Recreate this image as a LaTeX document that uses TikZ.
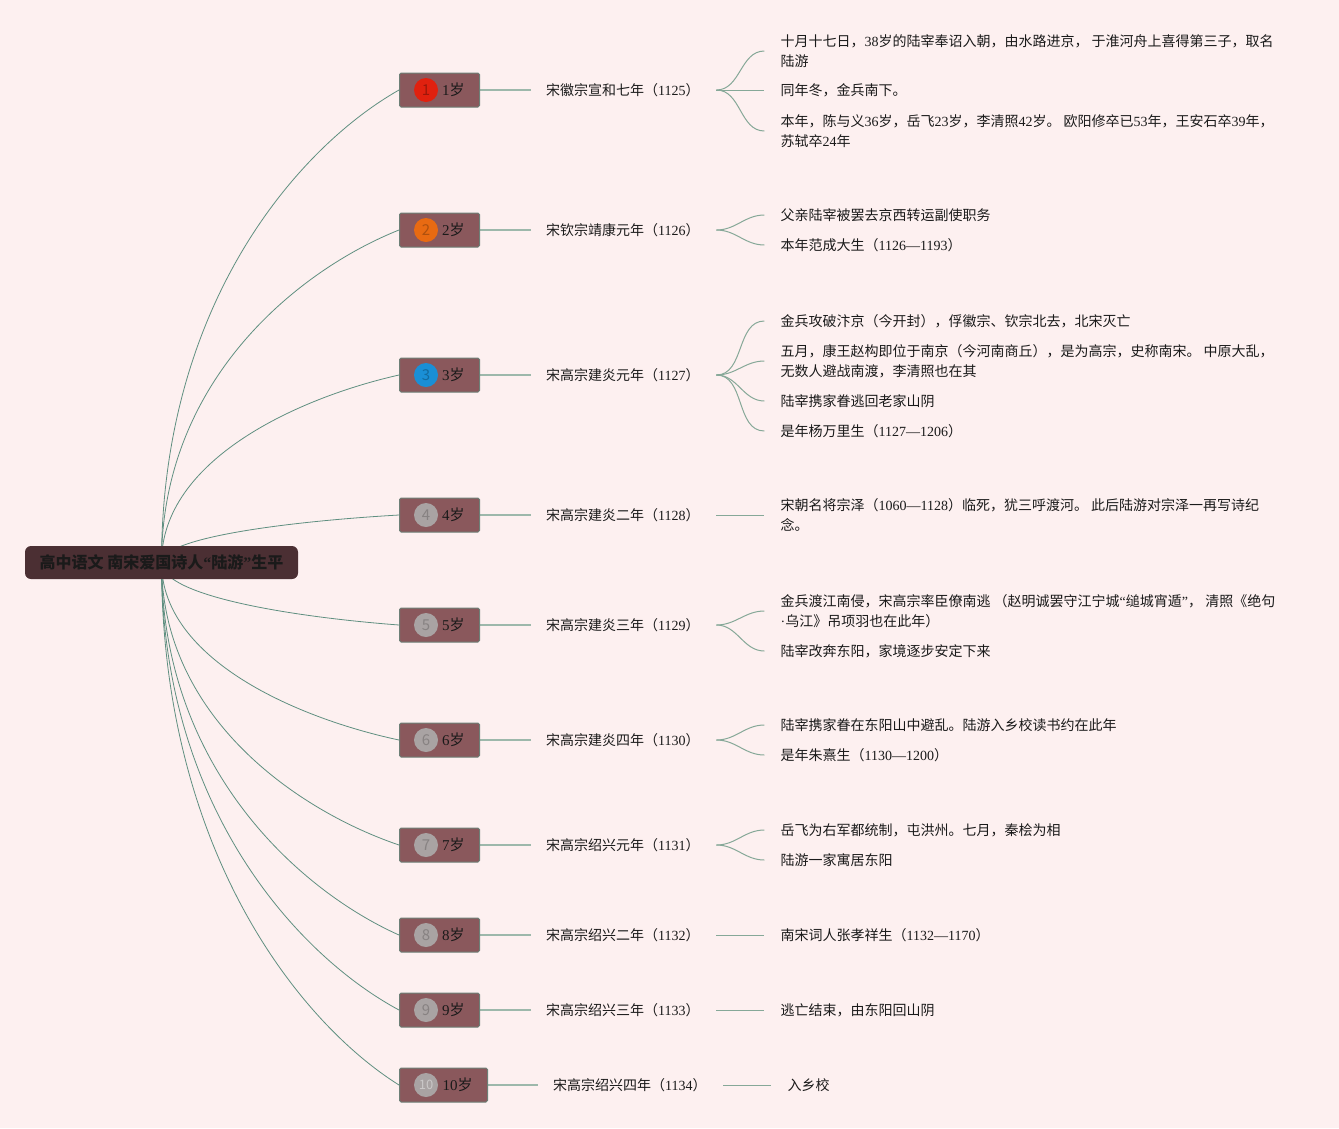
\documentclass[tikz,border=0pt]{standalone}
\usepackage{fontspec}
\setmainfont{Noto Sans CJK SC}
\newfontfamily\latfont{Liberation Serif}
\newcommand\lat[1]{{\latfont #1}}
\usepackage{xcolor}
\definecolor{pagebg}  {HTML}{FDF0F0}
\definecolor{rootfill}{HTML}{4B2F33}
\definecolor{agefill} {HTML}{8A585C}
\definecolor{agedraw} {HTML}{6D8077}
\definecolor{limbc}   {HTML}{5F8F80}
\definecolor{stemc}   {HTML}{9DB8AB}
\definecolor{twigc}   {HTML}{86A898}
\definecolor{badgeR}  {HTML}{E0210F}
\definecolor{badgeO}  {HTML}{E86A12}
\definecolor{badgeB}  {HTML}{1A8FD6}
\definecolor{badgeG}  {HTML}{A9A3A3}
\definecolor{inkc}    {HTML}{1A1A1A}
\usepackage{tikz}
\usetikzlibrary{positioning,calc,backgrounds}

\begin{document}
\begin{tikzpicture}[x=1pt, y=-1pt,
  font=\fontsize{14}{20}\selectfont, text=inkc,
  wurzel/.style={fill=rootfill, rounded corners=6pt, minimum width=273pt, minimum height=33pt, font=\fontsize{16}{20}\selectfont\bfseries},
  alter/.style={fill=agefill, draw=agedraw, line width=1pt, rounded corners=1.5pt, anchor=west, minimum height=34pt, text width=50pt, align=right, inner xsep=15pt, font=\fontsize{15}{20}\selectfont},
  plakette/.style={circle, minimum size=24pt, inner sep=0pt, font=\fontsize{15}{15}\selectfont},
  jahr/.style={text width=155pt, inner xsep=15pt, align=left},
  blatt/.style={inner xsep=16pt, align=left},
  limb/.style={limbc, line width=0.8pt, to path={.. controls ($(\tikztostart)!0.55!(\tikztostart |- \tikztotarget)$) and ($(\tikztotarget)!0.12!(\tikztostart -| \tikztotarget)+(-100pt,0)$) .. (\tikztotarget)}},
  stem/.style={stemc, line width=1.5pt},
  twig/.style={twigc, line width=1pt}]
  \useasboundingbox (0,0) rectangle (1339,1128);
  \begin{scope}[on background layer]
    \fill[pagebg] (0,0) rectangle (1339,1128);
  \end{scope}
  % Wurzel
  \node[wurzel] (root) at (161.5,562.5) {高中语文 南宋爱国诗人\lat{“}陆游\lat{”}生平};
  % Lebensjahre
  \node[alter] (a1) at (399,90) {\lat{1}岁};
  \node[alter] (a2) at (399,230) {\lat{2}岁};
  \node[alter] (a3) at (399,375) {\lat{3}岁};
  \node[alter] (a4) at (399,515) {\lat{4}岁};
  \node[alter] (a5) at (399,625) {\lat{5}岁};
  \node[alter] (a6) at (399,740) {\lat{6}岁};
  \node[alter] (a7) at (399,845) {\lat{7}岁};
  \node[alter] (a8) at (399,935) {\lat{8}岁};
  \node[alter] (a9) at (399,1010) {\lat{9}岁};
  \node[alter, text width=58pt] (a10) at (399,1085) {\lat{10}岁};
  \node[plakette, fill=badgeR, text=badgeR!70!black] (p1) at ([xshift=27pt]a1.west) {1};
  \node[plakette, fill=badgeO, text=badgeO!75!black] (p2) at ([xshift=27pt]a2.west) {2};
  \node[plakette, fill=badgeB, text=badgeB!75!black] (p3) at ([xshift=27pt]a3.west) {3};
  \node[plakette, fill=badgeG, text=badgeG!80!black] (p4) at ([xshift=27pt]a4.west) {4};
  \node[plakette, fill=badgeG, text=badgeG!80!black] (p5) at ([xshift=27pt]a5.west) {5};
  \node[plakette, fill=badgeG, text=badgeG!80!black] (p6) at ([xshift=27pt]a6.west) {6};
  \node[plakette, fill=badgeG, text=badgeG!80!black] (p7) at ([xshift=27pt]a7.west) {7};
  \node[plakette, fill=badgeG, text=badgeG!80!black] (p8) at ([xshift=27pt]a8.west) {8};
  \node[plakette, fill=badgeG, text=badgeG!80!black] (p9) at ([xshift=27pt]a9.west) {9};
  \node[plakette, fill=badgeG, text=badgeG!60!white, font=\fontsize{13}{13}\selectfont] (p10) at ([xshift=27pt]a10.west) {10};
  % Jahre
  \node[jahr, right=51pt of a1] (y1) {宋徽宗宣和七年（\lat{1125}）};
  \node[jahr, right=51pt of a2] (y2) {宋钦宗靖康元年（\lat{1126}）};
  \node[jahr, right=51pt of a3] (y3) {宋高宗建炎元年（\lat{1127}）};
  \node[jahr, right=51pt of a4] (y4) {宋高宗建炎二年（\lat{1128}）};
  \node[jahr, right=51pt of a5] (y5) {宋高宗建炎三年（\lat{1129}）};
  \node[jahr, right=51pt of a6] (y6) {宋高宗建炎四年（\lat{1130}）};
  \node[jahr, right=51pt of a7] (y7) {宋高宗绍兴元年（\lat{1131}）};
  \node[jahr, right=51pt of a8] (y8) {宋高宗绍兴二年（\lat{1132}）};
  \node[jahr, right=51pt of a9] (y9) {宋高宗绍兴三年（\lat{1133}）};
  \node[jahr, right=50pt of a10] (y10) {宋高宗绍兴四年（\lat{1134}）};
  % Ereignisse
  \node[blatt, right=48pt of y1, yshift=39pt] (e1a) {十月十七日，\lat{38}岁的陆宰奉诏入朝，由水路进京， 于淮河舟上喜得第三子，取名\\陆游};
  \node[blatt, right=48pt of y1] (e1b) {同年冬，金兵南下。};
  \node[blatt, right=48pt of y1, yshift=-41pt] (e1c) {本年，陈与义\lat{36}岁，岳飞\lat{23}岁，李清照\lat{42}岁。 欧阳修卒已\lat{53}年，王安石卒\lat{39}年，\\苏轼卒\lat{24}年};
  \node[blatt, right=48pt of y2, yshift=15pt] (e2a) {父亲陆宰被罢去京西转运副使职务};
  \node[blatt, right=48pt of y2, yshift=-15pt] (e2b) {本年范成大生（\lat{1126—1193}）};
  \node[blatt, right=48pt of y3, yshift=54pt] (e3a) {金兵攻破汴京（今开封），俘徽宗、钦宗北去，北宋灭亡};
  \node[blatt, right=48pt of y3, yshift=14pt] (e3b) {五月，康王赵构即位于南京（今河南商丘），是为高宗，史称南宋。 中原大乱，\\无数人避战南渡，李清照也在其};
  \node[blatt, right=48pt of y3, yshift=-26pt] (e3c) {陆宰携家眷逃回老家山阴};
  \node[blatt, right=48pt of y3, yshift=-56pt] (e3d) {是年杨万里生（\lat{1127—1206}）};
  \node[blatt, right=48pt of y4] (e4a) {宋朝名将宗泽（\lat{1060—1128}）临死，犹三呼渡河。 此后陆游对宗泽一再写诗纪\\念。};
  \node[blatt, right=48pt of y5, yshift=14pt] (e5a) {金兵渡江南侵，宋高宗率臣僚南逃 （赵明诚罢守江宁城\lat{“}缒城宵遁\lat{”}， 清照《绝句\\\lat{·}乌江》吊项羽也在此年）};
  \node[blatt, right=48pt of y5, yshift=-26pt] (e5b) {陆宰改奔东阳，家境逐步安定下来};
  \node[blatt, right=48pt of y6, yshift=15pt] (e6a) {陆宰携家眷在东阳山中避乱。陆游入乡校读书约在此年};
  \node[blatt, right=48pt of y6, yshift=-15pt] (e6b) {是年朱熹生（\lat{1130—1200}）};
  \node[blatt, right=48pt of y7, yshift=15pt] (e7a) {岳飞为右军都统制，屯洪州。七月，秦桧为相};
  \node[blatt, right=48pt of y7, yshift=-15pt] (e7b) {陆游一家寓居东阳};
  \node[blatt, right=48pt of y8] (e8a) {南宋词人张孝祥生（\lat{1132—1170}）};
  \node[blatt, right=48pt of y9] (e9a) {逃亡结束，由东阳回山阴};
  \node[blatt, right=48pt of y10] (e10a) {入乡校};
  % Verbindungen
  \begin{scope}[on background layer]
    \draw[limb] (root.center) to (a1.west);
    \draw[limb] (root.center) to (a2.west);
    \draw[limb] (root.center) to (a3.west);
    \draw[limb] (root.center) to (a4.west);
    \draw[limb] (root.center) to (a5.west);
    \draw[limb] (root.center) to (a6.west);
    \draw[limb] (root.center) to (a7.west);
    \draw[limb] (root.center) to (a8.west);
    \draw[limb] (root.center) to (a9.west);
    \draw[limb] (root.center) to (a10.west);
    \draw[stem] (a1.east) -- (y1.west);
    \draw[stem] (a2.east) -- (y2.west);
    \draw[stem] (a3.east) -- (y3.west);
    \draw[stem] (a4.east) -- (y4.west);
    \draw[stem] (a5.east) -- (y5.west);
    \draw[stem] (a6.east) -- (y6.west);
    \draw[stem] (a7.east) -- (y7.west);
    \draw[stem] (a8.east) -- (y8.west);
    \draw[stem] (a9.east) -- (y9.west);
    \draw[stem] (a10.east) -- (y10.west);
    \draw[twig] (y1.east) to[out=0, in=180] (e1a.west);
    \draw[twig] (y1.east) -- (e1b.west);
    \draw[twig] (y1.east) to[out=0, in=180] (e1c.west);
    \draw[twig] (y2.east) to[out=0, in=180] (e2a.west);
    \draw[twig] (y2.east) to[out=0, in=180] (e2b.west);
    \draw[twig] (y3.east) to[out=0, in=180] (e3a.west);
    \draw[twig] (y3.east) to[out=0, in=180] (e3b.west);
    \draw[twig] (y3.east) to[out=0, in=180] (e3c.west);
    \draw[twig] (y3.east) to[out=0, in=180] (e3d.west);
    \draw[twig] (y4.east) -- (e4a.west);
    \draw[twig] (y5.east) to[out=0, in=180] (e5a.west);
    \draw[twig] (y5.east) to[out=0, in=180] (e5b.west);
    \draw[twig] (y6.east) to[out=0, in=180] (e6a.west);
    \draw[twig] (y6.east) to[out=0, in=180] (e6b.west);
    \draw[twig] (y7.east) to[out=0, in=180] (e7a.west);
    \draw[twig] (y7.east) to[out=0, in=180] (e7b.west);
    \draw[twig] (y8.east) -- (e8a.west);
    \draw[twig] (y9.east) -- (e9a.west);
    \draw[twig] (y10.east) -- (e10a.west);
  \end{scope}
\end{tikzpicture}
\end{document}
